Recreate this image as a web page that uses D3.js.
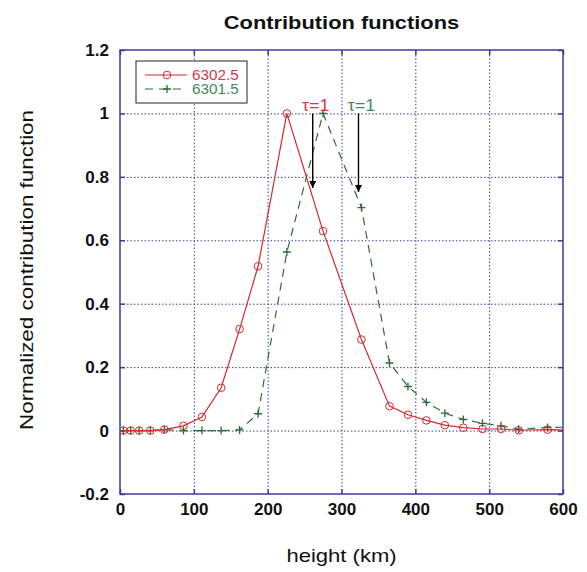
<!DOCTYPE html>
<html>
<head>
<meta charset="utf-8">
<script src="https://cdn.jsdelivr.net/npm/d3@7"></script>
<style>
  body { margin: 0; background: #fff; }
  text { font-family: "Liberation Sans", Arial, Helvetica, sans-serif; }
</style>
</head>
<body>
<svg id="chart" width="587" height="572"></svg>
<script>
/** heights (km) shared by both lines */
const heights = [4.5, 14.5, 26, 41, 60, 86, 111, 137, 162, 187, 226, 275, 327, 365, 390, 415, 440, 465, 491, 516, 540, 579, 620];
/** normalized contribution functions */
const cf6302 = [0, 0, 0, 0, 0.003, 0.015, 0.043, 0.135, 0.32, 0.518, 1.0, 0.629, 0.287, 0.077, 0.05, 0.032, 0.017, 0.009, 0.005, 0.005, 0.001, 0.003, 0.002];
const cf6301 = [0, 0, 0, 0, 0.003, 0, 0, 0, 0.002, 0.053, 0.563, 1.0, 0.703, 0.213, 0.139, 0.089, 0.055, 0.035, 0.023, 0.015, 0.004, 0.01, 0.011];
/** tau = 1 heights and where the arrows point to */
const tauHeights = [261, 323];
const tauTips = [0.765, 0.752];
const tauTop = 1.0;
/** ticks */
const xTicks = [0, 100, 200, 300, 400, 500, 600];
const yTicks = [-0.2, 0, 0.2, 0.4, 0.6, 0.8, 1, 1.2];

const series = [
  { name: "6302.5", data: cf6302, color: "#d22b2e", text: "#d6364c", mark: "circle", dash: null },
  { name: "6301.5", data: cf6301, color: "#2d6b36", text: "#3e8a5a", mark: "plus", dash: "8 6" },
];

const svg = d3.select("#chart");
const frame = "#3c3c9c";

/** plot box */
const box = { left: 120, right: 563, top: 50, bottom: 494 };

const x = d3.scaleLinear().domain([0, 600]).range([box.left, box.right]);
const y = d3.scaleLinear().domain([-0.2, 1.2]).range([box.bottom, box.top]);

/** stretched text helper (reference font runs wide) */
const label = (g, px, py, str, { size = 16, weight = "normal", anchor = "start", sx = 1, rotate = 0, fill = "#111" } = {}) =>
  g.append("text")
    .attr("transform", `translate(${px},${py}) rotate(${rotate}) scale(${sx},1)`)
    .attr("font-size", size)
    .attr("font-weight", weight)
    .attr("text-anchor", anchor)
    .attr("fill", fill)
    .text(str);

/** dotted grid */
svg.append("g")
  .attr("class", "grid")
  .attr("transform", `translate(0,${box.bottom})`)
  .call(d3.axisBottom(x).tickValues(xTicks.slice(1, -1)).tickSize(-(box.bottom - box.top)).tickFormat(""));
svg.append("g")
  .attr("class", "grid")
  .attr("transform", `translate(${box.left},0)`)
  .call(d3.axisLeft(y).tickValues(yTicks.slice(1, -1)).tickSize(-(box.right - box.left)).tickFormat(""));
svg.selectAll(".grid .domain").remove();
svg.selectAll(".grid line").attr("stroke", frame).attr("stroke-dasharray", "1.5 2");

/** axes with inward ticks */
const bx = svg.append("g")
  .attr("class", "ax")
  .attr("transform", `translate(0,${box.bottom})`)
  .call(d3.axisBottom(x).tickValues(xTicks).tickSizeInner(-5).tickSizeOuter(0).tickPadding(9));
const ly = svg.append("g")
  .attr("class", "ax")
  .attr("transform", `translate(${box.left},0)`)
  .call(d3.axisLeft(y).tickValues(yTicks).tickSizeInner(-5).tickSizeOuter(0).tickPadding(11).tickFormat((d) => String(+d.toFixed(1))));
svg.append("g")
  .attr("class", "ax")
  .attr("transform", `translate(0,${box.top})`)
  .call(d3.axisTop(x).tickValues(xTicks).tickSizeInner(-5).tickSizeOuter(0).tickFormat(""));
svg.append("g")
  .attr("class", "ax")
  .attr("transform", `translate(${box.right},0)`)
  .call(d3.axisRight(y).tickValues(yTicks).tickSizeInner(-5).tickSizeOuter(0).tickFormat(""));
svg.selectAll(".ax .domain").remove();
svg.selectAll(".ax line").attr("stroke", frame).attr("stroke-width", 1.5);
for (const g of [bx, ly])
  g.selectAll("text")
    .attr("font-family", "Liberation Sans, Arial, sans-serif")
    .attr("font-size", 17)
    .attr("font-weight", "bold")
    .attr("fill", "#111");

svg.append("rect")
  .attr("x", box.left).attr("y", box.top)
  .attr("width", box.right - box.left).attr("height", box.bottom - box.top)
  .attr("fill", "none").attr("stroke", frame).attr("stroke-width", 1.5);

/** clip data to the box */
svg.append("clipPath").attr("id", "clip")
  .append("rect").attr("x", box.left).attr("y", box.top)
  .attr("width", box.right - box.left).attr("height", box.bottom - box.top);
const plot = svg.append("g").attr("clip-path", "url(#clip)");

const line = d3.line().x((d) => x(d[0])).y((d) => y(d[1]));
const plusPath = "M-4,0H4M0,-4V4";

const drawMark = (g, kind, color) =>
  kind === "circle"
    ? g.append("circle").attr("r", 3.8).attr("fill", "none").attr("stroke", color).attr("stroke-width", 1)
    : g.append("path").attr("d", plusPath).attr("stroke", color).attr("stroke-width", 1.3);

for (const s of series.slice().reverse()) {
  const pts = heights.map((h, i) => [h, s.data[i]]);
  plot.append("path")
    .attr("d", line(pts))
    .attr("fill", "none")
    .attr("stroke", s.color)
    .attr("stroke-width", 1.2)
    .attr("stroke-dasharray", s.dash);
  for (const p of pts)
    drawMark(plot.append("g").attr("transform", `translate(${x(p[0])},${y(p[1])})`), s.mark, s.color);
}

/** tau = 1 arrows */
svg.append("defs").append("marker")
  .attr("id", "head")
  .attr("viewBox", "0 0 10 10")
  .attr("refX", 10).attr("refY", 5)
  .attr("markerWidth", 7).attr("markerHeight", 7)
  .attr("markerUnits", "userSpaceOnUse")
  .attr("orient", "auto")
  .append("path").attr("d", "M0,0L10,5L0,10Z").attr("fill", "#000");

tauHeights.forEach((h, i) => {
  svg.append("line")
    .attr("x1", x(h)).attr("x2", x(h))
    .attr("y1", y(tauTop)).attr("y2", y(tauTips[i]))
    .attr("stroke", "#000").attr("stroke-width", 1.4)
    .attr("marker-end", "url(#head)");
  label(svg, x(h) + 3, y(tauTop) - 2, "τ=1", { size: 16, anchor: "middle", sx: 1.12, fill: series[i].text });
});

/** legend */
const lg = svg.append("g").attr("transform", "translate(136,61)");
lg.append("rect").attr("width", 111).attr("height", 42).attr("fill", "#fff").attr("stroke", "#222").attr("stroke-width", 1);
series.forEach((s, i) => {
  const ry = 14 + i * 14;
  lg.append("line").attr("x1", 9).attr("x2", 51).attr("y1", ry).attr("y2", ry)
    .attr("stroke", s.color).attr("stroke-width", 1.2).attr("stroke-dasharray", s.dash);
  drawMark(lg.append("g").attr("transform", `translate(31,${ry})`), s.mark, s.color);
  label(lg, 56, ry + 5, s.name, { size: 14, sx: 1.09, fill: s.text });
});

/** titles */
label(svg, (box.left + box.right) / 2, 29, "Contribution functions", { size: 19, weight: "bold", anchor: "middle", sx: 1.15 });
label(svg, (box.left + box.right) / 2, 562, "height (km)", { size: 19, anchor: "middle", sx: 1.16 });
label(svg, 33, (box.top + box.bottom) / 2 - 2, "Normalized contribution function", { size: 19, anchor: "middle", sx: 1.18, rotate: -90 });
</script>
</body>
</html>
